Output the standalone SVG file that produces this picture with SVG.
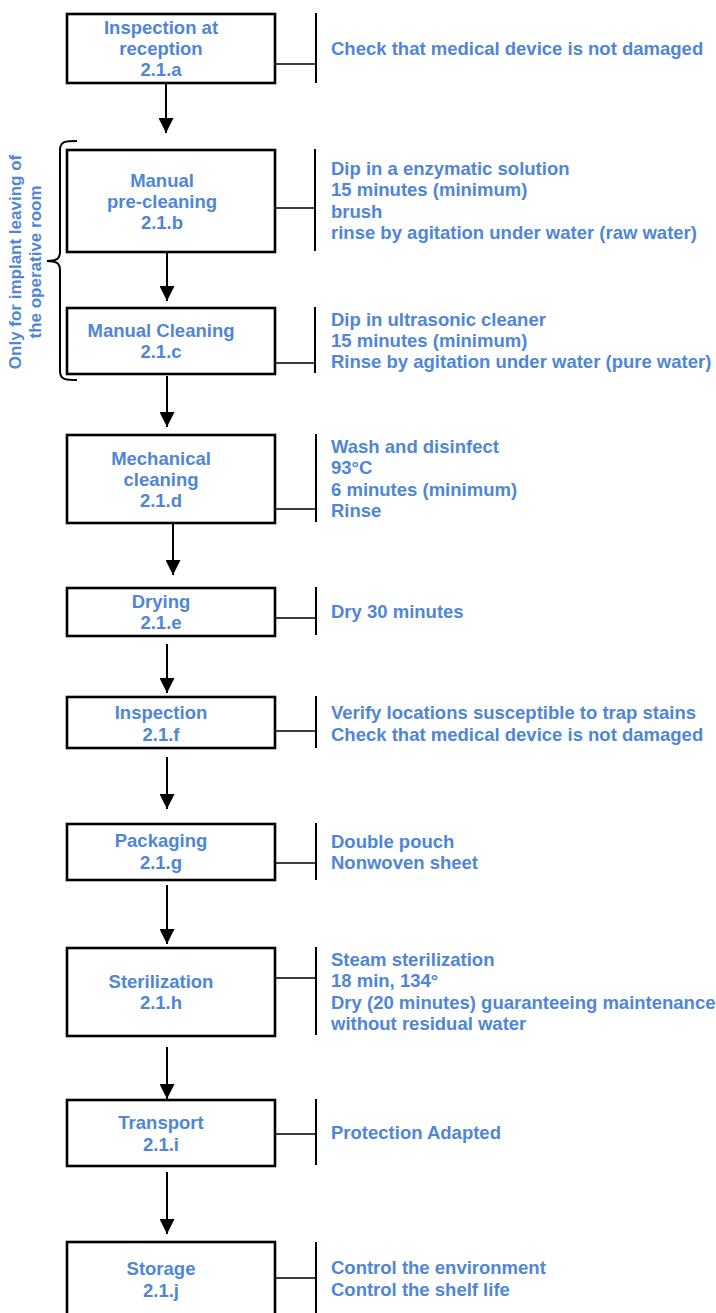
<svg xmlns="http://www.w3.org/2000/svg" width="716" height="1313" viewBox="0 0 716 1313">
<defs>
<marker id="ah" markerUnits="userSpaceOnUse" markerWidth="15" markerHeight="15" refX="15" refY="7.5" orient="auto" viewBox="0 0 15 15">
<path d="M0,0 L15,7.5 L0,15 z" fill="#000"/>
</marker>
</defs>
<style>
.box{fill:#fff;stroke:#000;stroke-width:2.6}
.bar{stroke:#000;stroke-width:2;fill:none}
.tie{stroke:#000;stroke-width:1.6;fill:none}
.arr{stroke:#000;stroke-width:2;fill:none;marker-end:url(#ah)}
text{font-family:"Liberation Sans",Arial,sans-serif;font-weight:bold;font-size:18.5px;fill:#4f86d6}
.c{text-anchor:middle}
.rot{font-size:17px}
</style>
<rect width="716" height="1313" fill="#fff"/>
<g id="connectors">
<line class="arr" x1="166" y1="84" x2="166" y2="133"/>
<line class="arr" x1="167" y1="253" x2="167" y2="301"/>
<line class="arr" x1="167" y1="376" x2="167" y2="427"/>
<line class="arr" x1="173" y1="524" x2="173" y2="575"/>
<line class="arr" x1="167" y1="644" x2="167" y2="693"/>
<line class="arr" x1="167" y1="757" x2="167" y2="809"/>
<line class="arr" x1="167" y1="885" x2="167" y2="944"/>
<line class="arr" x1="167" y1="1047" x2="167" y2="1099"/>
<line class="arr" x1="167" y1="1172" x2="167" y2="1234"/>
<path class="tie" d="M275,64H316 M275,208H316 M275,363H316 M275,509H316 M275,618H316 M275,731H316 M275,863H316 M273,978H316 M275,1134H316 M275,1278H316"/>
</g>
<g id="brace">
<path class="bar" d="M77,141 C66,141 60,141 60,150 V252 C60,259 56,261 47,261 C56,261 60,263 60,270 V371 C60,380 66,380 77,380"/>
<text transform="translate(21,262) rotate(-90)" class="c rot">Only for implant leaving of</text>
<text transform="translate(41,262) rotate(-90)" class="c rot">the operative room</text>
</g>
<g id="node-a">
<rect class="box" x="67" y="14" width="208" height="69"/>
<text class="c" x="161" y="34">Inspection at</text>
<text class="c" x="161" y="55">reception</text>
<text class="c" x="161" y="76">2.1.a</text>
<line class="bar" x1="316" y1="13" x2="316" y2="83"/>
<text x="331" y="55">Check that medical device is not damaged</text>
</g>
<g id="node-b">
<rect class="box" x="67" y="150" width="208" height="102"/>
<text class="c" x="162" y="187">Manual</text>
<text class="c" x="162" y="208">pre-cleaning</text>
<text class="c" x="162" y="229">2.1.b</text>
<line class="bar" x1="315" y1="149" x2="315" y2="251"/>
<text x="331" y="175">Dip in a enzymatic solution</text>
<text x="331" y="196">15 minutes (minimum)</text>
<text x="331" y="218">brush</text>
<text x="331" y="239">rinse by agitation under water (raw water)</text>
</g>
<g id="node-c">
<rect class="box" x="67" y="308" width="208" height="66"/>
<text class="c" x="161" y="337">Manual Cleaning</text>
<text class="c" x="161" y="358">2.1.c</text>
<line class="bar" x1="315" y1="307" x2="315" y2="373"/>
<text x="331" y="326">Dip in ultrasonic cleaner</text>
<text x="331" y="347">15 minutes (minimum)</text>
<text x="331" y="368">Rinse by agitation under water (pure water)</text>
</g>
<g id="node-d">
<rect class="box" x="67" y="435" width="208" height="88"/>
<text class="c" x="161" y="465">Mechanical</text>
<text class="c" x="161" y="486">cleaning</text>
<text class="c" x="161" y="507">2.1.d</text>
<line class="bar" x1="316" y1="434" x2="316" y2="522"/>
<text x="331" y="453">Wash and disinfect</text>
<text x="331" y="474">93°C</text>
<text x="331" y="496">6 minutes (minimum)</text>
<text x="331" y="517">Rinse</text>
</g>
<g id="node-e">
<rect class="box" x="67" y="588" width="208" height="48"/>
<text class="c" x="161" y="608">Drying</text>
<text class="c" x="161" y="629">2.1.e</text>
<line class="bar" x1="316" y1="587" x2="316" y2="635"/>
<text x="331" y="618">Dry 30 minutes</text>
</g>
<g id="node-f">
<rect class="box" x="67" y="697" width="208" height="51"/>
<text class="c" x="161" y="719">Inspection</text>
<text class="c" x="161" y="741">2.1.f</text>
<line class="bar" x1="316" y1="696" x2="316" y2="748"/>
<text x="331" y="719">Verify locations susceptible to trap stains</text>
<text x="331" y="741">Check that medical device is not damaged</text>
</g>
<g id="node-g">
<rect class="box" x="67" y="824" width="208" height="56"/>
<text class="c" x="161" y="847">Packaging</text>
<text class="c" x="161" y="869">2.1.g</text>
<line class="bar" x1="316" y1="823" x2="316" y2="880"/>
<text x="331" y="848">Double pouch</text>
<text x="331" y="869">Nonwoven sheet</text>
</g>
<g id="node-h">
<rect class="box" x="67" y="948" width="208" height="88"/>
<text class="c" x="161" y="988">Sterilization</text>
<text class="c" x="161" y="1009">2.1.h</text>
<line class="bar" x1="316" y1="947" x2="316" y2="1035"/>
<text x="331" y="966">Steam sterilization</text>
<text x="331" y="987">18 min, 134°</text>
<text x="331" y="1009">Dry (20 minutes) guaranteeing maintenance</text>
<text x="331" y="1030">without residual water</text>
</g>
<g id="node-i">
<rect class="box" x="67" y="1100" width="208" height="66"/>
<text class="c" x="161" y="1129">Transport</text>
<text class="c" x="161" y="1151">2.1.i</text>
<line class="bar" x1="316" y1="1099" x2="316" y2="1165"/>
<text x="331" y="1139">Protection Adapted</text>
</g>
<g id="node-j">
<rect class="box" x="67" y="1242" width="208" height="90"/>
<text class="c" x="161" y="1275">Storage</text>
<text class="c" x="161" y="1297">2.1.j</text>
<line class="bar" x1="316" y1="1242" x2="316" y2="1320"/>
<text x="331" y="1274">Control the environment</text>
<text x="331" y="1296">Control the shelf life</text>
</g>
</svg>
